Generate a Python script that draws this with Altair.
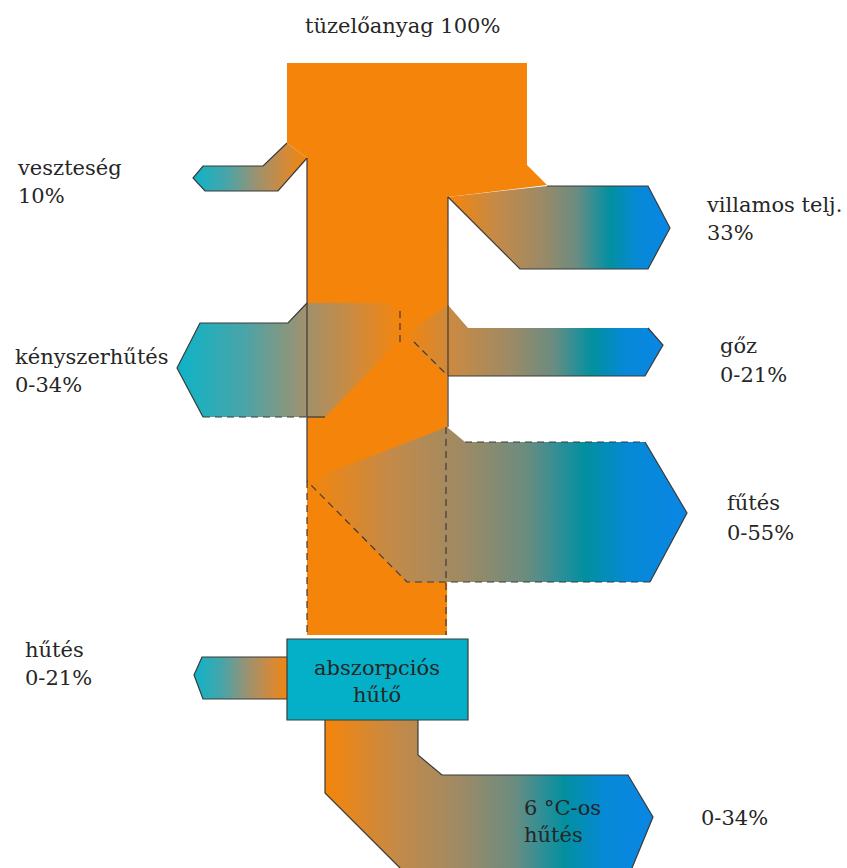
import altair as alt

# ---------------- colours ----------------
ORANGE = "#f5850a"
BOX_TEAL = "#04b0c8"
EDGE = "#3a3a3a"

# ---------------- shapes (diagram coordinates, y grows downwards) ----------------
TRUNK_X = [287, 527, 527, 547, 448, 447, 307, 307, 287]
TRUNK_Y = [63, 63, 165, 185, 197, 635, 635, 158, 143]

VESZTESEG_X = [287, 307, 278, 205, 193, 203, 263]
VESZTESEG_Y = [143, 158, 191, 191, 178, 166, 166]

VILLAMOS_X = [448, 547, 648, 670, 648, 520]
VILLAMOS_Y = [197, 186, 186, 228, 269, 269]

KENYSZER_X = [177, 200, 288, 307, 392, 402, 325, 203]
KENYSZER_Y = [368, 323, 323, 303, 303, 338, 417, 417]

GOZ_X = [402, 448, 468, 648, 663, 645, 448]
GOZ_Y = [336, 305, 328, 328, 345, 376, 376]

FUTES_X = [307, 447, 465, 645, 687, 650, 407]
FUTES_Y = [481, 427, 442, 442, 513, 582, 582]

HUTES_X = [202, 290, 290, 203, 194]
HUTES_Y = [657, 657, 699, 699, 675]

HIDEG_X = [325, 418, 418, 442, 628, 653, 632, 400, 325]
HIDEG_Y = [716, 716, 755, 775, 775, 817, 868, 868, 793]

BOX_X = [287, 468, 468, 287]
BOX_Y = [639, 639, 720, 720]

# ---------------- edge lines ----------------
SOLID_LINES = [
    ([307, 307], [158, 481]),
    ([448, 448], [197, 427]),
    ([287, 263, 203, 193, 205, 278, 307], [143, 166, 166, 178, 191, 191, 158]),
    ([547, 648, 670, 648, 520, 448], [186, 186, 228, 269, 269, 197]),
    ([307, 288, 200, 177, 203], [303, 323, 323, 368, 417]),
    ([307, 325], [417, 417]),
    ([648, 663, 645, 448], [328, 345, 376, 376]),
    ([645, 687, 650], [442, 513, 582]),
    ([287, 202, 194, 203, 287], [657, 657, 675, 699, 699]),
    ([325, 325, 400], [720, 793, 868]),
    ([418, 418, 442, 628, 653, 632], [720, 755, 775, 775, 817, 868]),
]
DASHED_LINES = [
    ([307, 307], [481, 635]),
    ([446, 446], [427, 635]),
    ([203, 307], [417, 417]),
    ([400, 400], [311, 342]),
    ([414, 448], [342, 376]),
    ([465, 645], [442, 442]),
    ([650, 407, 307], [582, 582, 481]),
]

# ---------------- labels ----------------
LABEL_TEXT = ["tüzelőanyag 100%", "veszteség", "10%", "kényszerhűtés", "0-34%",
              "villamos telj.", "33%", "gőz", "0-21%", "fűtés", "0-55%",
              "hűtés", "0-21%", "6 °C-os", "hűtés", "0-34%"]
LABEL_X = [305, 18, 18, 15, 15, 707, 707, 720, 720, 727, 727, 25, 25, 524, 524, 701]
LABEL_Y = [33, 175, 203, 364, 392, 212, 240, 353, 382, 510, 540, 657, 685, 815, 842, 825]

BOX_TEXT = ["abszorpciós", "hűtő"]
BOX_TX = [377, 377]
BOX_TY = [675, 702]


def polygon(xs, ys):
    ring = [[x, y] for x, y in zip(xs, ys)]
    ring.append(ring[0])
    return {"type": "Feature", "properties": {},
            "geometry": {"type": "Polygon", "coordinates": [ring]}}


def lines(items):
    return [{"type": "Feature", "properties": {},
             "geometry": {"type": "LineString",
                          "coordinates": [[x, y] for x, y in zip(xs, ys)]}}
            for xs, ys in items]


def grad(stops):
    return alt.LinearGradient(
        gradient="linear", x1=0, x2=1, y1=0, y2=0,
        stops=[alt.GradientStop(offset=o, color=c) for o, c in stops])


BLUE_GRAD = grad([(0, ORANGE), (0.22, "#c48a48"), (0.42, "#9c8a66"),
                  (0.58, "#6a8c80"), (0.67, "#2a8f98"), (0.73, "#02909f"),
                  (0.85, "#0689d6"), (1, "#0a86e4")])
TEAL_GRAD = grad([(0, "#0cb4c8"), (0.3, "#4aa4a8"), (0.55, "#9a9272"),
                  (0.8, "#d08a3c"), (1, ORANGE)])


def shape(xs, ys, fill):
    return alt.Chart(alt.Data(values=[polygon(xs, ys)])).mark_geoshape(
        fill=fill, strokeWidth=0)


layers = [
    shape(TRUNK_X, TRUNK_Y, ORANGE),
    shape(VESZTESEG_X, VESZTESEG_Y, TEAL_GRAD),
    shape(VILLAMOS_X, VILLAMOS_Y, BLUE_GRAD),
    shape(KENYSZER_X, KENYSZER_Y, TEAL_GRAD),
    shape(GOZ_X, GOZ_Y, BLUE_GRAD),
    shape(FUTES_X, FUTES_Y, BLUE_GRAD),
    shape(HUTES_X, HUTES_Y, TEAL_GRAD),
    shape(HIDEG_X, HIDEG_Y, BLUE_GRAD),
    alt.Chart(alt.Data(values=[polygon(BOX_X, BOX_Y)])).mark_geoshape(
        fill=BOX_TEAL, stroke=EDGE, strokeWidth=1.2),
    alt.Chart(alt.Data(values=lines(SOLID_LINES))).mark_geoshape(
        filled=False, stroke=EDGE, strokeWidth=1.2),
    alt.Chart(alt.Data(values=lines(DASHED_LINES))).mark_geoshape(
        filled=False, stroke=EDGE, strokeWidth=1.2, strokeDash=[7, 5]),
]

labels = alt.Data(values=[{"t": t, "x": x, "y": y}
                          for t, x, y in zip(LABEL_TEXT, LABEL_X, LABEL_Y)])
box_labels = alt.Data(values=[{"t": t, "x": x, "y": y}
                              for t, x, y in zip(BOX_TEXT, BOX_TX, BOX_TY)])

layers.append(alt.Chart(labels).mark_text(
    font="DejaVu Serif", fontSize=21, color="#262626", align="left",
    baseline="alphabetic").encode(longitude="x:Q", latitude="y:Q", text="t:N"))
layers.append(alt.Chart(box_labels).mark_text(
    font="DejaVu Serif", fontSize=21, color="#262626", align="center",
    baseline="alphabetic").encode(longitude="x:Q", latitude="y:Q", text="t:N"))

chart = alt.layer(*layers).properties(
    width=847, height=868,
    projection=alt.Projection(type="identity", scale=1, translate=[0, 0]),
    padding=0,
    autosize=alt.AutoSizeParams(type="none"),
    background="white",
).configure_view(strokeWidth=0)

chart.save("out.html", embed_options={"renderer": "svg", "actions": False})
